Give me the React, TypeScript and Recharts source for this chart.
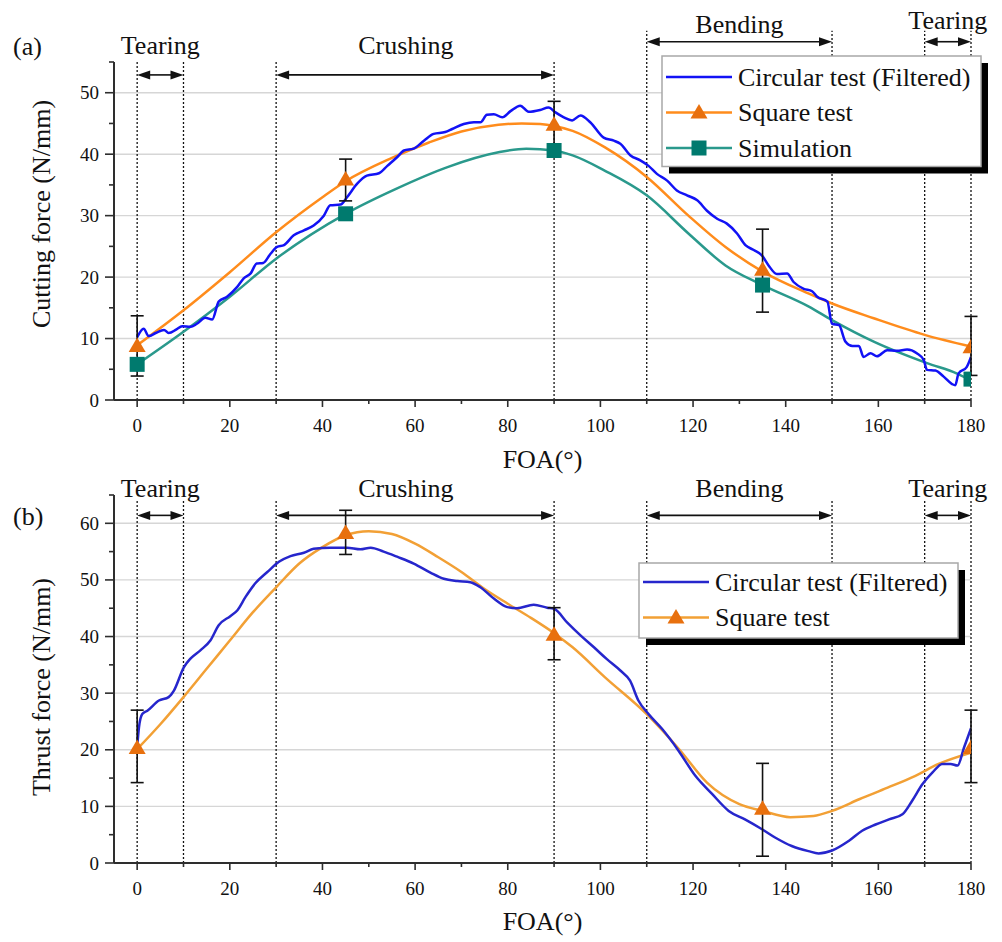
import React from 'react';
import { ComposedChart, Line, Scatter, XAxis, YAxis, ReferenceLine, ReferenceDot, ErrorBar } from 'recharts';

const FONT = '"Liberation Serif", "Times New Roman", Times, serif';
const INK = '#111';
const AXIS = '#2e2e2e';
const GRID = '#d6d6d6';

// shared FOA axis
const foaTicks = [0, 10, 20, 30, 40, 50, 60, 70, 80, 90, 100, 110, 120, 130, 140, 150, 160, 170, 180];
const specimenFoa = [0, 45, 90, 135, 180];
const stages = [
  { name: 'Tearing', from: 0, to: 10 },
  { name: 'Crushing', from: 30, to: 90 },
  { name: 'Bending', from: 110, to: 150 },
  { name: 'Tearing', from: 170, to: 180 },
];

// (a) cutting force
const cuttingTicks = [0, 5, 10, 15, 20, 25, 30, 35, 40, 45, 50, 55];
const cuttingGrid = [10, 20, 30, 40, 50];
const circularCutting: [number, number][] = [
  [0, 10.2], [1.4, 11.6], [2.5, 10.4], [4, 10.9], [5.8, 11.4], [6.8, 10.9], [8.5, 11.5], [9.7, 12.0],
  [11.5, 11.9], [12.9, 12.4], [14.7, 13.4], [16.2, 13.1], [17.6, 16.0], [19.4, 16.8], [21.6, 18.4],
  [23, 19.8], [24.5, 20.6], [25.8, 22.2], [27.2, 22.3], [28.8, 23.8], [30.2, 24.9], [31.7, 25.2],
  [33.8, 26.8], [36, 27.6], [38.1, 28.4], [40.3, 30.0], [41.7, 31.7], [43.9, 31.8], [45.3, 33.0],
  [47.5, 35.2], [49.6, 36.5], [52.2, 36.9], [54, 38.1], [56.1, 39.5], [57.6, 40.6], [59.7, 40.9],
  [61.9, 42.2], [64, 43.3], [66.5, 43.6], [68, 44.1], [70.5, 44.9], [72.7, 45.2], [74.1, 45.2],
  [75.5, 46.4], [77, 46.5], [78.8, 46.0], [80.6, 47.0], [82.7, 47.9], [84.5, 46.9], [87, 47.2],
  [88.8, 47.6], [90.3, 46.8], [92.1, 46.0], [93.9, 45.5], [95.7, 46.3], [97.8, 45.2], [100.7, 42.7],
  [102.9, 42.2], [104.3, 41.7], [106.5, 39.8], [108.6, 39.0], [110.4, 38.1], [112.2, 36.8],
  [114.4, 35.7], [116.5, 34.1], [118.7, 33.3], [120.9, 32.5], [123, 30.8], [125.2, 29.5],
  [127.3, 28.7], [129.5, 27.1], [131.3, 25.2], [133.1, 24.4], [134.9, 23.5], [136.3, 21.9],
  [138.1, 20.5], [140.3, 20.6], [141.7, 19.2], [143.9, 18.1], [145.7, 17.7], [146.8, 16.8],
  [149, 16.0], [150, 12.4], [151.5, 12.2], [152.9, 9.5], [154.4, 8.8], [155.8, 8.8], [156.8, 7.0],
  [158.3, 7.6], [159.7, 7.1], [161.9, 8.1], [164, 8.0], [166.2, 8.2], [168.3, 7.6], [169.8, 6.5],
  [170.5, 4.9], [172.3, 4.8], [174.1, 3.8], [175.9, 2.6], [176.6, 2.4], [177.3, 4.3], [179.1, 5.4],
  [180, 7.0],
];
const squareCuttingFit: [number, number][] = [
  [0, 8.9], [10, 14.6], [20, 20.8], [30, 27.3], [40, 33.0], [45, 35.6], [55, 39.4], [63, 41.9],
  [70, 43.7], [78, 44.8], [83, 45.0], [87, 44.9], [90, 44.6], [94, 43.8], [101, 41.1], [110, 36.3],
  [119, 30.0], [127, 24.9], [135, 20.9], [145, 17.3], [150, 15.7], [159, 13.3], [170, 10.6], [180, 8.7],
];
const simulationCuttingFit: [number, number][] = [
  [0, 5.8], [10, 11.1], [20, 16.8], [30, 23.0], [45, 30.3], [56, 34.4], [67, 37.9], [78, 40.3],
  [84, 40.9], [90, 40.6], [94, 39.8], [101, 37.3], [110, 33.3], [119, 27.1], [127, 21.9],
  [135, 18.7], [145, 15.2], [150, 13.0], [159, 9.5], [170.5, 6.0], [177, 4.3], [180, 3.2],
];
const squareCutting = [8.8, 35.9, 44.8, 21.2, 8.6];
const squareCuttingErr: [number, number][] = [[4.9, 4.9], [3.5, 3.3], [3.7, 3.8], [6.9, 6.6], [4.6, 5.0]];
const simulationCutting = [5.8, 30.3, 40.6, 18.7, 3.4];

// (b) thrust force
const thrustTicks = [0, 5, 10, 15, 20, 25, 30, 35, 40, 45, 50, 55, 60, 65];
const thrustGrid = [10, 20, 30, 40, 50, 60];
const circularThrust: [number, number][] = [
  [0, 20.5], [0.4, 24], [1.1, 26.3], [2.2, 26.9], [4.7, 28.7], [6.8, 29.3], [7.9, 30.4], [10.1, 34.6],
  [11.5, 36.1], [13.7, 37.6], [15.8, 39.3], [17.6, 42.0], [20.1, 43.6], [21.6, 44.6], [23.4, 47],
  [25.5, 49.4], [28.1, 51.4], [30.6, 53.2], [33.1, 54.2], [36, 54.8], [38.1, 55.5], [41.7, 55.7],
  [45.3, 55.7], [48.2, 55.4], [50.4, 55.7], [53.2, 55], [56.1, 54.1], [59.7, 52.9], [63.3, 51.3],
  [66.2, 50.2], [69.1, 49.8], [71.9, 49.6], [74.1, 48.7], [77, 46.7], [79.9, 45.2], [82, 45],
  [85.6, 45.6], [88.5, 45.1], [90, 44.9], [92.8, 42.5], [95.7, 40.2], [98.6, 38.1], [101.4, 36.0],
  [104.3, 34.0], [106.4, 32.2], [108.2, 28.7], [110.4, 26.3], [113.3, 23.7], [116.9, 19.8],
  [120.5, 15.4], [124.1, 12.2], [127.7, 9.2], [131.2, 7.7], [134.8, 6.0], [137.7, 4.5], [141.3, 3.0],
  [144.9, 2.1], [147.1, 1.7], [150, 2.2], [153.6, 3.9], [156.5, 5.7], [159.4, 6.8], [162.3, 7.7],
  [165.2, 8.6], [167.3, 11.0], [169.5, 13.9], [171.7, 16.0], [173.8, 17.5], [175.6, 17.5],
  [177.1, 17.2], [178.5, 20.4], [180, 23.8],
];
const squareThrustFit: [number, number][] = [
  [0, 20.1], [5, 24.5], [10, 29.3], [15, 34.3], [20, 39.3], [25, 44.3], [30, 48.7], [35, 52.9],
  [40, 55.8], [45, 57.9], [50, 58.6], [55, 58.1], [60, 56.4], [65, 54.0], [70, 51.4], [75, 48.4],
  [80, 45.8], [85, 43.3], [90, 40.6], [94, 38.1], [101, 32.8], [110, 26.3], [117, 20.1], [123, 14.2],
  [130, 10.4], [135, 9.2], [141, 8.1], [146, 8.3], [150, 9.2], [156, 11.3], [162, 13.3], [168, 15.4],
  [173, 17.5], [180, 19.5],
];
const squareThrust = [20.3, 58.3, 40.3, 9.6, 20.3];
const squareThrustErr: [number, number][] = [[6.1, 6.7], [3.8, 4.0], [4.4, 4.8], [8.4, 8.0], [6.1, 6.7]];

const toPts = (arr: [number, number][]) => arr.map(([x, y]) => ({ x, y }));
const toMarks = (vals: number[], errs?: [number, number][]) =>
  vals.map((y, i) => ({ x: specimenFoa[i], y, err: errs ? errs[i] : undefined }));

const labelNudge: Record<string, number> = { Crushing: -2 };

const XTick = (props: any) => {
  const { x, y, payload } = props;
  const v = payload.value;
  const major = v % 20 === 0;
  return (
    <g>
      <line x1={x} x2={x} y1={y} y2={y + (major ? 7 : 4)} stroke={AXIS} strokeWidth={1.6} />
      {major && (
        <text x={x} y={y + 25} textAnchor="middle" dominantBaseline="central" fontFamily={FONT} fontSize={19} fill={INK}>
          {v}
        </text>
      )}
    </g>
  );
};

const YTick = (props: any) => {
  const { x, y, payload } = props;
  const v = payload.value;
  const major = v % 10 === 0;
  return (
    <g>
      <line x1={x - (major ? 9 : 5)} x2={x} y1={y} y2={y} stroke={AXIS} strokeWidth={1.6} />
      {major && (
        <text x={x - 15} y={y} textAnchor="end" dominantBaseline="central" fontFamily={FONT} fontSize={19} fill={INK}>
          {v}
        </text>
      )}
    </g>
  );
};

const Arrow = (p: any) => {
  const { x1, x2, y1 } = p;
  const h = 13;
  const w = 4.5;
  return (
    <g>
      <line x1={x1 + h - 1} x2={x2 - h + 1} y1={y1} y2={y1} stroke={INK} strokeWidth={1.6} />
      <polygon points={`${x1},${y1} ${x1 + h},${y1 - w} ${x1 + h},${y1 + w}`} fill={INK} />
      <polygon points={`${x2},${y1} ${x2 - h},${y1 - w} ${x2 - h},${y1 + w}`} fill={INK} />
    </g>
  );
};

const Triangle = (p: any) => {
  const { cx, cy } = p;
  return <polygon points={`${cx},${cy - 8.5} ${cx - 8.5},${cy + 6} ${cx + 8.5},${cy + 6}`} fill="#e8700e" />;
};

const Square = (p: any) => {
  const { cx, cy } = p;
  return <rect x={cx - 7.5} y={cy - 7.5} width={15} height={15} fill="#007a6e" />;
};

interface Curve { key: string; pts: [number, number][]; color: string }
interface Marks { key: string; vals: number[]; errs?: [number, number][]; shape: (p: any) => any }
interface Level { line: number; arrow: number; label: number }

interface PanelProps {
  height: number;
  margin: { top: number; right: number; left: number; bottom: number };
  yMax: number;
  yTicks: number[];
  yGrid: number[];
  yTitle: string;
  yTitleCenter: number;
  xTitleBaseline: number;
  curves: Curve[];
  marks: Marks[];
  levels: Level[];
}

const Panel = ({ height, margin, yMax, yTicks, yGrid, yTitle, yTitleCenter, xTitleBaseline, curves, marks, levels }: PanelProps) => (
  <ComposedChart width={1002} height={height} margin={margin}>
    <XAxis
      type="number"
      dataKey="x"
      domain={[-5, 180]}
      ticks={foaTicks}
      interval={0}
      allowDataOverflow
      height={40}
      tickSize={0}
      tickMargin={0}
      tickLine={false}
      axisLine={{ stroke: AXIS, strokeWidth: 2 }}
      tick={<XTick />}
      label={(p: any) => (
        <text x={p.viewBox.x + p.viewBox.width / 2} y={xTitleBaseline} textAnchor="middle" fontFamily={FONT} fontSize={26} fill={INK}>
          FOA(°)
        </text>
      )}
    />
    <YAxis
      type="number"
      domain={[0, yMax]}
      ticks={yTicks}
      interval={0}
      allowDataOverflow
      width={60}
      tickSize={0}
      tickMargin={0}
      tickLine={false}
      axisLine={{ stroke: AXIS, strokeWidth: 2 }}
      tick={<YTick />}
      label={() => (
        <text
          x={41}
          y={yTitleCenter}
          transform={`rotate(-90 41 ${yTitleCenter})`}
          textAnchor="middle"
          dominantBaseline="central"
          fontFamily={FONT}
          fontSize={26}
          fill={INK}
        >
          {yTitle}
        </text>
      )}
    />
    {yGrid.map((v) => (
      <ReferenceLine key={`g${v}`} y={v} stroke={GRID} strokeWidth={1.4} />
    ))}
    {stages.map((s, i) =>
      [s.from, s.to].map((b) => (
        <ReferenceLine
          key={`d${i}-${b}`}
          segment={[{ x: b, y: 0 }, { x: b, y: levels[i].line }]}
          stroke={INK}
          strokeWidth={1.3}
          strokeDasharray="2 2"
          ifOverflow="visible"
        />
      ))
    )}
    {stages.map((s, i) => (
      <ReferenceLine
        key={`a${i}`}
        segment={[{ x: s.from, y: levels[i].arrow }, { x: s.to, y: levels[i].arrow }]}
        ifOverflow="visible"
        shape={Arrow}
      />
    ))}
    {stages.map((s, i) => (
      <ReferenceDot
        key={`l${i}`}
        x={(s.from + s.to) / 2 + (labelNudge[s.name] || 0)}
        y={levels[i].label}
        ifOverflow="visible"
        shape={(p: any) => (
          <text x={p.cx} y={p.cy} textAnchor="middle" fontFamily={FONT} fontSize={26} fill={INK}>
            {s.name}
          </text>
        )}
      />
    ))}
    {curves.map((c) => (
      <Line
        key={c.key}
        data={toPts(c.pts)}
        dataKey="y"
        type="monotone"
        stroke={c.color}
        strokeWidth={2.5}
        dot={false}
        activeDot={false}
        isAnimationActive={false}
      />
    ))}
    {marks.map((m) => (
      <Scatter key={m.key} data={toMarks(m.vals, m.errs)} dataKey="y" shape={m.shape} isAnimationActive={false}>
        {m.errs && <ErrorBar dataKey="err" direction="y" width={6.5} stroke={INK} strokeWidth={1.6} />}
      </Scatter>
    ))}
  </ComposedChart>
);

interface LegendRow { label: string; color: string; marker?: 'triangle' | 'square' }

const LegendBox = ({ x, y, w, rows, top }: { x: number; y: number; w: number; rows: LegendRow[]; top: number }) => {
  const h = rows.length * 35.5 + 4;
  return (
    <g>
      <rect x={x + 7} y={y + 7} width={w} height={h} fill="#000" />
      <rect x={x} y={y} width={w} height={h} fill="#fff" stroke="#a8a8a8" strokeWidth={1.5} />
      {rows.map((r, i) => {
        const ry = top + i * 35.5;
        const cx = x + 37;
        return (
          <g key={r.label}>
            <line x1={x + 4} x2={x + 70} y1={ry} y2={ry} stroke={r.color} strokeWidth={2.5} />
            {r.marker === 'triangle' && (
              <polygon points={`${cx},${ry - 8.5} ${cx - 8.5},${ry + 6} ${cx + 8.5},${ry + 6}`} fill="#e8700e" />
            )}
            {r.marker === 'square' && <rect x={cx - 7.5} y={ry - 7.5} width={15} height={15} fill="#007a6e" />}
            <text x={x + 76} y={ry} dominantBaseline="central" fontFamily={FONT} fontSize={26} fill={INK}>
              {r.label}
            </text>
          </g>
        );
      })}
    </g>
  );
};

export default function App() {
  return (
    <div style={{ position: 'absolute', left: 0, top: 0, width: 1002, height: 942, background: '#fff' }}>
      <div style={{ position: 'absolute', left: 0, top: 0 }}>
        <Panel
          height={480}
          margin={{ top: 62, right: 31, left: 54, bottom: 40 }}
          yMax={55}
          yTicks={cuttingTicks}
          yGrid={cuttingGrid}
          yTitle="Cutting force (N/mm)"
          yTitleCenter={214}
          xTitleBaseline={468}
          curves={[
            { key: 'sqfit', pts: squareCuttingFit, color: '#ff8c1c' },
            { key: 'simfit', pts: simulationCuttingFit, color: '#2a998c' },
            { key: 'circ', pts: circularCutting, color: '#1212f5' },
          ]}
          marks={[
            { key: 'sim', vals: simulationCutting, shape: Square },
            { key: 'sq', vals: squareCutting, errs: squareCuttingErr, shape: Triangle },
          ]}
          levels={[
            { line: 55.3, arrow: 52.9, label: 56.3 },
            { line: 55.3, arrow: 52.9, label: 56.3 },
            { line: 60.1, arrow: 58.3, label: 59.8 },
            { line: 60.1, arrow: 58.3, label: 60.4 },
          ]}
        />
      </div>
      <div style={{ position: 'absolute', left: 0, top: 470 }}>
        <Panel
          height={472}
          margin={{ top: 25, right: 31, left: 54, bottom: 39 }}
          yMax={65}
          yTicks={thrustTicks}
          yGrid={thrustGrid}
          yTitle="Thrust force (N/mm)"
          yTitleCenter={217}
          xTitleBaseline={460}
          curves={[
            { key: 'sqfit', pts: squareThrustFit, color: '#f2a035' },
            { key: 'circ', pts: circularThrust, color: '#2626cc' },
          ]}
          marks={[{ key: 'sq', vals: squareThrust, errs: squareThrustErr, shape: Triangle }]}
          levels={[
            { line: 64.2, arrow: 61.4, label: 64.7 },
            { line: 64.2, arrow: 61.4, label: 64.7 },
            { line: 64.2, arrow: 61.4, label: 64.7 },
            { line: 64.2, arrow: 61.4, label: 64.7 },
          ]}
        />
      </div>
      <svg width={1002} height={942} style={{ position: 'absolute', left: 0, top: 0, pointerEvents: 'none' }}>
        <text x={13} y={55} fontFamily={FONT} fontSize={26} fill={INK}>(a)</text>
        <text x={13} y={525} fontFamily={FONT} fontSize={26} fill={INK}>(b)</text>
        <LegendBox
          x={662}
          y={56}
          w={319}
          top={77}
          rows={[
            { label: 'Circular test (Filtered)', color: '#1212f5' },
            { label: 'Square test', color: '#ff8c1c', marker: 'triangle' },
            { label: 'Simulation', color: '#2a998c', marker: 'square' },
          ]}
        />
        <LegendBox
          x={639}
          y={563}
          w={319}
          top={582}
          rows={[
            { label: 'Circular test (Filtered)', color: '#2626cc' },
            { label: 'Square test', color: '#f2a035', marker: 'triangle' },
          ]}
        />
      </svg>
    </div>
  );
}
